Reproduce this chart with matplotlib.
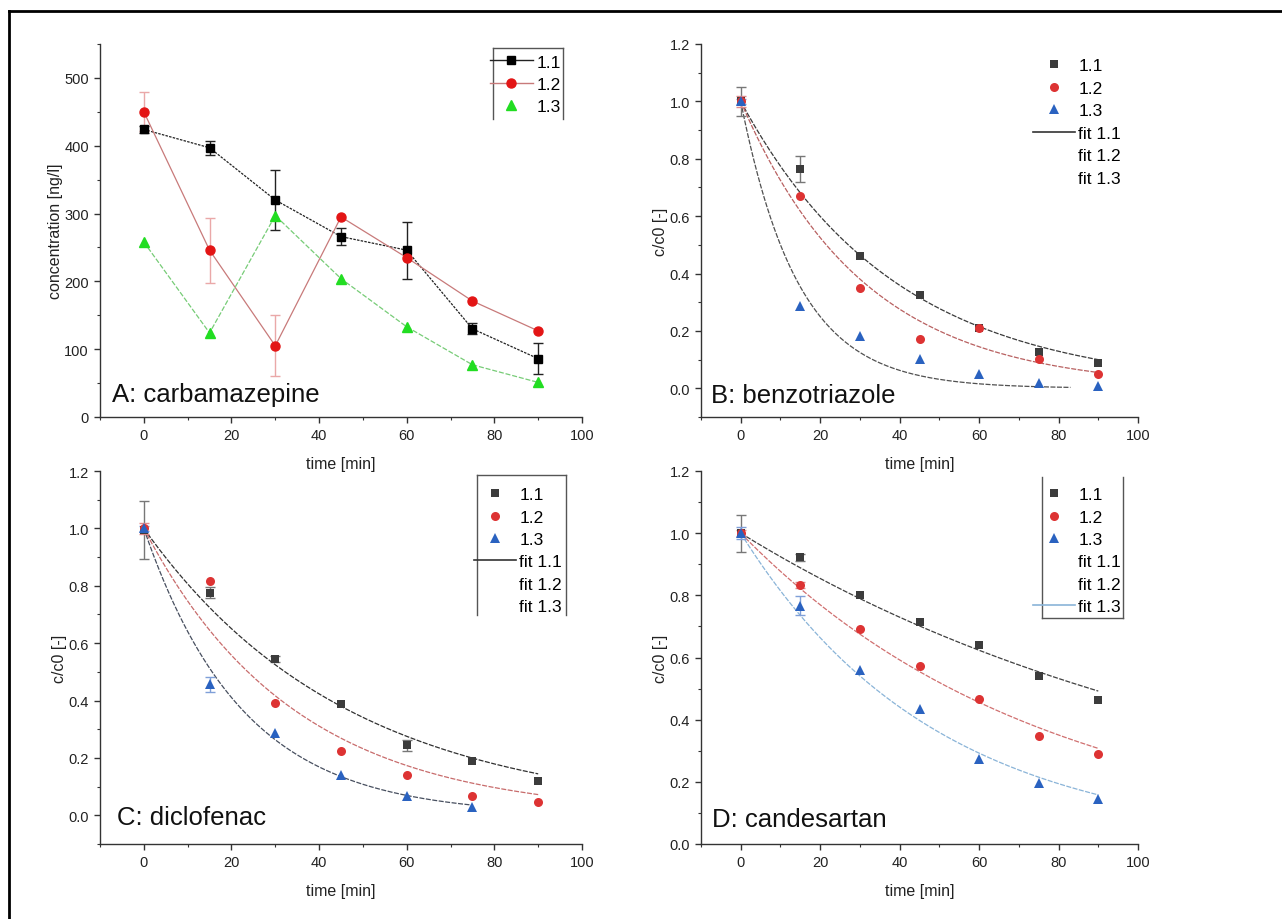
import numpy as np
import matplotlib
matplotlib.use("Agg")
import matplotlib.pyplot as plt
from matplotlib.lines import Line2D

plt.rcParams['font.family'] = ['Liberation Sans', 'DejaVu Sans']

# ---------------- data ----------------
time_min = [0, 15, 30, 45, 60, 75, 90]
series_names = ["1.1", "1.2", "1.3"]

# A: carbamazepine, concentration [ng/l]
A_11 = [424, 397, 320, 266, 246, 130, 86]
A_12 = [450, 246, 105, 295, 235, 171, 127]
A_13 = [258, 124, 297, 204, 133, 77, 51]
A_err_11 = [5, 10, 44, 12, 42, 8, 23]
A_err_12 = [29, 48, 45, 0, 0, 0, 0]
A_err_13 = [0, 0, 0, 0, 0, 0, 0]

# B: benzotriazole, c/c0
B_11 = [1.0, 0.763, 0.46, 0.325, 0.209, 0.128, 0.087]
B_12 = [1.0, 0.669, 0.348, 0.171, 0.209, 0.101, 0.051]
B_13 = [1.0, 0.286, 0.183, 0.101, 0.051, 0.02, 0.008]
B_err_11 = [0.05, 0.045, 0, 0, 0, 0, 0]
B_err_12 = [0.02, 0, 0, 0, 0, 0, 0]
B_err_13 = [0.01, 0, 0, 0, 0, 0, 0]
B_fit_k = [0.0256, 0.0322, 0.0693]
B_fit_end = [90, 90, 83]

# C: diclofenac, c/c0
C_time_13 = [0, 15, 30, 45, 60, 75]
C_11 = [0.995, 0.776, 0.545, 0.387, 0.244, 0.19, 0.119]
C_12 = [1.0, 0.816, 0.392, 0.224, 0.14, 0.066, 0.045]
C_13 = [1.0, 0.456, 0.287, 0.142, 0.066, 0.028]
C_err_11 = [0.1, 0.02, 0.01, 0, 0.02, 0, 0]
C_err_12 = [0.02, 0, 0, 0, 0, 0, 0]
C_err_13 = [0.01, 0.025, 0, 0, 0, 0]
C_fit_k = [0.0215, 0.0292, 0.0445]
C_fit_end = [90, 90, 75]

# D: candesartan, c/c0
D_11 = [1.0, 0.922, 0.80, 0.713, 0.64, 0.54, 0.463]
D_12 = [1.0, 0.834, 0.692, 0.574, 0.467, 0.348, 0.288]
D_13 = [1.0, 0.767, 0.559, 0.435, 0.275, 0.195, 0.144]
D_err_11 = [0.06, 0.01, 0, 0, 0, 0, 0]
D_err_12 = [0.01, 0.01, 0, 0, 0, 0, 0]
D_err_13 = [0.02, 0.03, 0, 0, 0, 0, 0]
D_fit_k = [0.00788, 0.0131, 0.0205]
D_fit_end = [90, 90, 90]

panel_titles = ["A: carbamazepine", "B: benzotriazole", "C: diclofenac", "D: candesartan"]
fit_names = ["fit 1.1", "fit 1.2", "fit 1.3"]

# ---------------- style ----------------
W, H = 1282, 920
fig = plt.figure(figsize=(W / 100, H / 100), dpi=100)

def fig_rect(l, t, r, b):
    return [l / W, 1 - b / H, (r - l) / W, (b - t) / H]

axA = fig.add_axes(fig_rect(100, 45, 582, 418))
axB = fig.add_axes(fig_rect(701, 45, 1138, 418))
axC = fig.add_axes(fig_rect(100, 472, 582, 845))
axD = fig.add_axes(fig_rect(701, 472, 1138, 845))
for ax in (axA, axB, axC, axD):
    ax.patch.set_alpha(0)

spine_col = '#333333'
tick_fs = 10.5
label_fs = 11.5
title_fs = 18.5
leg_fs = 12.5
leg_sp = 0.42

def style_axes(ax, ylim, yticks, yminor, ylabel):
    ax.set_xlim(-10, 100)
    ax.set_ylim(*ylim)
    ax.set_xticks(np.arange(0, 101, 20))
    ax.set_xticks(np.arange(-10, 101, 10), minor=True)
    ax.set_yticks(yticks)
    ax.set_yticks(yminor, minor=True)
    for s in ['top', 'right']:
        ax.spines[s].set_visible(False)
    for s in ['left', 'bottom']:
        ax.spines[s].set_color(spine_col)
        ax.spines[s].set_linewidth(1.0)
    ax.tick_params(which='major', direction='out', length=4.5, width=1.0,
                   color=spine_col, labelsize=tick_fs, labelcolor='#222222')
    ax.tick_params(which='minor', direction='out', length=2.5, width=0.8,
                   color=spine_col)
    ax.set_xlabel("time [min]", fontsize=label_fs, labelpad=10, color='#222222')
    ax.set_ylabel(ylabel, fontsize=label_fs, labelpad=1, color='#222222')

# colours
c_sq = '#3c3c3c'
c_ci = '#dd3333'
c_tr = '#2a62c0'

# ---------------- panel A ----------------
A_vals = [A_11, A_12, A_13]
A_errs = [A_err_11, A_err_12, A_err_13]
A_markers = ['s', 'o', '^']
A_colors = ['#000000', '#e31515', '#22dd22']
A_line_cols = ['#222222', '#c87a7a', '#77cc77']
A_line_styles = [(0, (2, 1)), '-', (0, (4, 1.5))]
A_err_cols = ['#222222', '#eaa8a8', '#77cc77']
A_ms = [6, 6.5, 6.5]
for vals, errs, m, c, lc, ls, ec, ms in zip(A_vals, A_errs, A_markers, A_colors,
                                             A_line_cols, A_line_styles, A_err_cols, A_ms):
    e = np.array(errs, dtype=float)
    mask = e > 0
    axA.errorbar(np.array(time_min)[mask], np.array(vals)[mask], yerr=e[mask],
                 fmt='none', ecolor=ec, elinewidth=1.0, capsize=3.5, capthick=1.0, zorder=2)
    axA.plot(time_min, vals, color=lc, lw=0.9, ls=ls, zorder=1)
    axA.plot(time_min, vals, ls='none', marker=m, ms=ms, color=c,
             markeredgecolor=c, zorder=3)

style_axes(axA, (0, 550), np.arange(0, 501, 100), np.arange(50, 551, 50),
           "concentration [ng/l]")
axA.text(0.025, 0.043, panel_titles[0], transform=axA.transAxes,
         fontsize=title_fs, color='#111111', ha='left', va='baseline')

A_handles = [
    Line2D([], [], color=A_line_cols[0], lw=1.0, marker='s', ms=6, mfc='#000000', mec='#000000'),
    Line2D([], [], color=A_line_cols[1], lw=1.0, marker='o', ms=6.5, mfc=A_colors[1], mec=A_colors[1]),
    Line2D([], [], ls='none', marker='^', ms=6.5, mfc=A_colors[2], mec=A_colors[2]),
]
axA.legend(A_handles, series_names, loc='upper right', bbox_to_anchor=(0.978, 1.0),
           frameon=False, fontsize=leg_fs, handlelength=2.5, handletextpad=0.2,
           labelspacing=leg_sp, borderaxespad=0.2)
box_col = '#555555'
for xs, ys in [([0.815, 0.815], [0.80, 0.989]), ([0.815, 0.961], [0.989, 0.989]),
               ([0.961, 0.961], [0.989, 0.80])]:
    axA.plot(xs, ys, transform=axA.transAxes, color=box_col, lw=1.0, clip_on=False)

# ---------------- panels B, C, D ----------------
def draw_ratio_panel(ax, times_list, vals_list, errs_list, fit_k, fit_end, fit_cols,
                     ylim, yticks, yminor, title, title_pos):
    markers = ['s', 'o', '^']
    cols = [c_sq, c_ci, c_tr]
    ecols = ['#777777', '#e08a8a', '#7f9fd8']
    mss = [5.2, 6.5, 6.8]
    for k, te, fc in zip(fit_k, fit_end, fit_cols):
        tt = np.linspace(0, te, 200)
        ax.plot(tt, np.exp(-k * tt), color=fc, lw=0.9, ls=(0, (4, 1.2)), zorder=1)
    for t, vals, errs, m, c, ec, ms in zip(times_list, vals_list, errs_list, markers, cols, ecols, mss):
        e = np.array(errs, dtype=float)
        mask = e > 0
        ax.errorbar(np.array(t)[mask], np.array(vals)[mask], yerr=e[mask], fmt='none',
                    ecolor=ec, elinewidth=1.0, capsize=3.5, capthick=1.0, zorder=2)
        ax.plot(t, vals, ls='none', marker=m, ms=ms, color=c, mec=c, mew=0, zorder=3)
    style_axes(ax, ylim, yticks, yminor, "c/c0 [-]")
    ax.text(title_pos[0], title_pos[1], title, transform=ax.transAxes,
            fontsize=title_fs, color='#111111', ha='left', va='baseline')

def ratio_handles(fit_handle_cols):
    hs = [Line2D([], [], ls='none', marker='s', ms=5.2, color=c_sq, mew=0),
          Line2D([], [], ls='none', marker='o', ms=6.5, color=c_ci, mew=0),
          Line2D([], [], ls='none', marker='^', ms=6.8, color=c_tr, mew=0)]
    for fc in fit_handle_cols:
        if fc is None:
            hs.append(Line2D([], [], color='none', lw=1.0))
        else:
            hs.append(Line2D([], [], color=fc, lw=1.2))
    return hs

labels6 = series_names + fit_names

# B
B_fit_cols = ['#3a3a3a', '#b86060', '#505050']
draw_ratio_panel(axB, [time_min] * 3, [B_11, B_12, B_13], [B_err_11, B_err_12, B_err_13],
                 B_fit_k, B_fit_end, B_fit_cols, (-0.1, 1.2), np.arange(0, 1.21, 0.2),
                 np.arange(-0.1, 1.21, 0.1), panel_titles[1], (0.023, 0.04))
axB.legend(ratio_handles(['#333333', None, None]), labels6, loc='upper right',
           bbox_to_anchor=(0.985, 0.99), frameon=False, fontsize=leg_fs,
           handlelength=2.4, handletextpad=0.2, labelspacing=leg_sp, borderaxespad=0.2)

# C
C_fit_cols = ['#303030', '#c86c6c', '#474f5f']
draw_ratio_panel(axC, [time_min, time_min, C_time_13], [C_11, C_12, C_13],
                 [C_err_11, C_err_12, C_err_13], C_fit_k, C_fit_end, C_fit_cols,
                 (-0.1, 1.2), np.arange(0, 1.21, 0.2), np.arange(-0.1, 1.21, 0.1),
                 panel_titles[2], (0.035, 0.054))
axC.legend(ratio_handles(['#333333', None, None]), labels6, loc='upper right',
           bbox_to_anchor=(0.98, 0.985), frameon=False, fontsize=leg_fs,
           handlelength=2.4, handletextpad=0.2, labelspacing=leg_sp, borderaxespad=0.2)
for xs, ys in [([0.782, 0.782], [0.613, 0.988]), ([0.782, 0.967], [0.988, 0.988]),
               ([0.967, 0.967], [0.988, 0.613])]:
    axC.plot(xs, ys, transform=axC.transAxes, color=box_col, lw=1.0, clip_on=False)

# D
D_fit_cols = ['#404040', '#d07070', '#8ab4d8']
draw_ratio_panel(axD, [time_min] * 3, [D_11, D_12, D_13], [D_err_11, D_err_12, D_err_13],
                 D_fit_k, D_fit_end, D_fit_cols, (0.0, 1.2), np.arange(0, 1.21, 0.2),
                 np.arange(0.1, 1.21, 0.1), panel_titles[3], (0.025, 0.049))
axD.legend(ratio_handles([None, None, '#8ab4d8']), labels6, loc='upper right',
           bbox_to_anchor=(0.985, 0.985), frameon=False, fontsize=leg_fs,
           handlelength=2.4, handletextpad=0.2, labelspacing=leg_sp, borderaxespad=0.2)
for xs, ys in [([0.780, 0.780], [0.984, 0.606]), ([0.780, 0.966], [0.606, 0.606]),
               ([0.966, 0.966], [0.606, 0.984])]:
    axD.plot(xs, ys, transform=axD.transAxes, color=box_col, lw=1.0, clip_on=False)

# outer frame (left and top edges only)
fig.add_artist(Line2D([9 / W, 9 / W], [0, 1 - 12 / H], color='black', lw=2.0,
                      transform=fig.transFigure))
fig.add_artist(Line2D([9 / W, 1], [1 - 12 / H, 1 - 12 / H], color='black', lw=2.0,
                      transform=fig.transFigure))

fig.savefig("out.png", dpi=100, facecolor='white')
